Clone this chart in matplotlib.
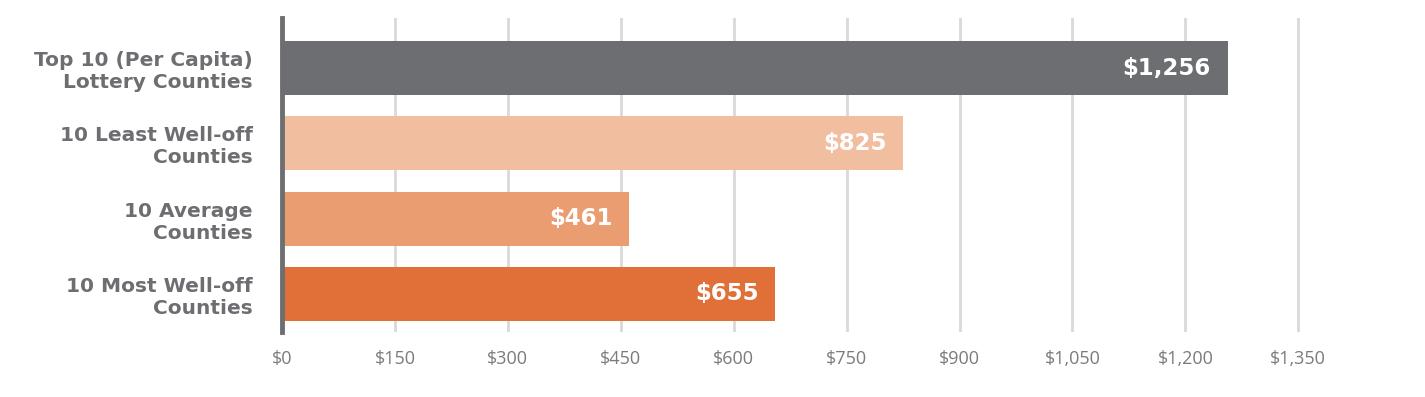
import matplotlib.pyplot as plt
from matplotlib.ticker import FuncFormatter

categories = ['Top 10 (Per Capita)\nLottery Counties',
              '10 Least Well-off\nCounties',
              '10 Average\nCounties',
              '10 Most Well-off\nCounties']
values = [1256, 825, 461, 655]
colors = ['#6d6e71', '#f2bea0', '#eb9d72', '#e07038']
xticks = [0, 150, 300, 450, 600, 750, 900, 1050, 1200, 1350]

gray = '#6d6e71'

fig = plt.figure(figsize=(14.25, 3.97), dpi=100)
ax = fig.add_axes([0.1979, 0.1637, 0.7396, 0.791])

ypos = range(len(categories))
ax.barh(ypos, values, height=0.72, color=colors, zorder=3)

for y, v in zip(ypos, values):
    ax.text(v - 22, y, '${:,}'.format(v), ha='right', va='center',
            color='white', fontsize=16.5, fontweight='bold',
            family='DejaVu Sans', zorder=4)

ax.set_ylim(3.51, -0.67)
ax.set_xlim(0, 1400)
ax.set_yticks(list(ypos))
ax.set_yticklabels(categories, fontsize=14.5, fontweight='bold',
                   color=gray, family='DejaVu Sans', linespacing=1.2)
ax.set_xticks(xticks)
ax.xaxis.set_major_formatter(FuncFormatter(lambda x, p: '${:,.0f}'.format(x)))
for lbl in ax.get_xticklabels():
    lbl.set_family('Open Sans')
    lbl.set_fontsize(13)
    lbl.set_color('#7a7b7e')

ax.grid(axis='x', color='#d9d9d9', linewidth=2, zorder=0)
ax.tick_params(axis='x', length=0, pad=13)
ax.tick_params(axis='y', length=0, pad=21)

for s in ['top', 'right', 'bottom']:
    ax.spines[s].set_visible(False)
ax.spines['left'].set_color(gray)
ax.spines['left'].set_linewidth(3.5)
ax.spines['left'].set_zorder(5)

plt.savefig('out.png', dpi=100)
